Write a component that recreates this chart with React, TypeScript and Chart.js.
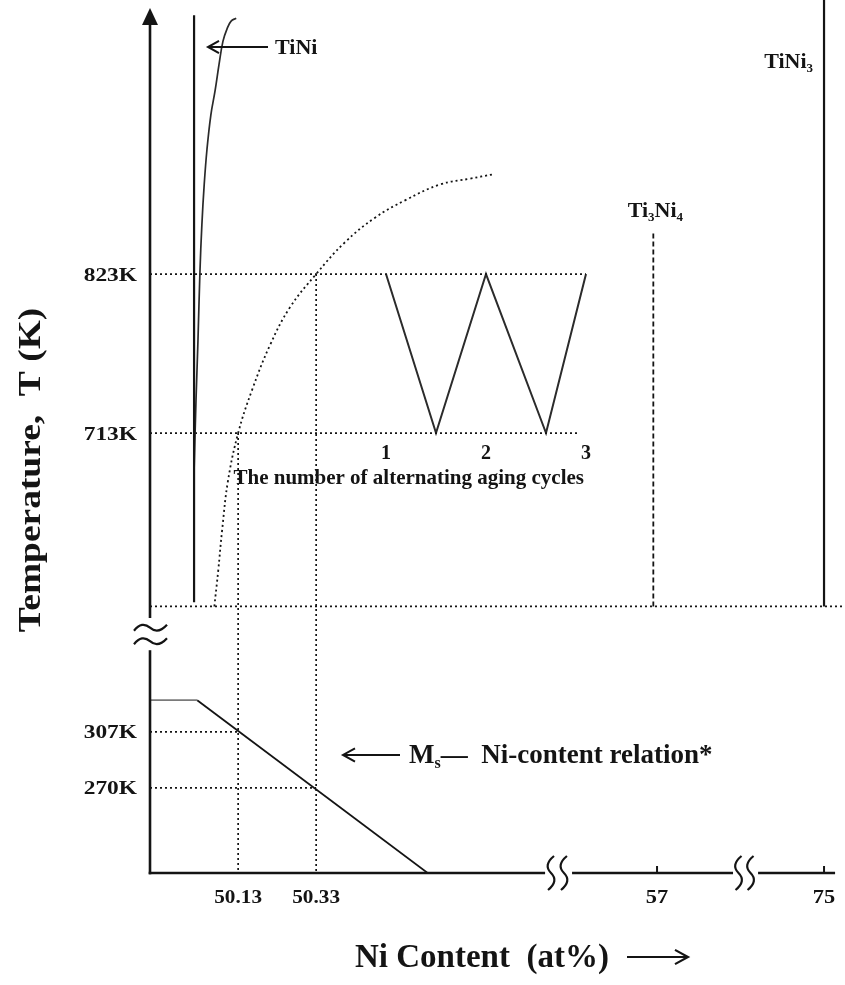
import React, { useEffect, useRef } from "react";
import { Chart, registerables } from "chart.js";

Chart.register(...registerables);

// ---------------- scale calibration ----------------
// continuous near-equiatomic part of the composition axis, at% Ni
const NI_MIN = 49.904;
const NI_MAX = 51.686;
// broken (compressed) far part of the composition axis, at% Ni
const NI_FAR_MIN = 2.35;
const NI_FAR_MAX = 77.26;
// upper panel (aging temperatures), K
const T_HIGH_MIN = 408.6;
const T_HIGH_MAX = 1012.6;
// lower panel (Ms temperatures), K
const T_LOW_MIN = 213.8;
const T_LOW_MAX = 790.6;
// inset: number of alternating aging cycles
const CYCLE_MIN = -1.36;
const CYCLE_MAX = 5.59;

// axis breaks
const AXIS_BREAK_T_HIGH = 585; // upper panel axis stops here (K)
const AXIS_BREAK_T_LOW = 361; // lower panel axis starts here (K)
const NEAR_AXIS_END_NI = 50.917;
const FAR_AXIS_SEGMENTS = [
  [47.84, 65.19],
  [67.89, 76.19],
];

// ---------------- data ----------------
// TiNi phase boundary (vertical) and TiNi solvus curve
const tiNiLineNi = [50.017, 50.017];
const tiNiLineT = [596, 1002];
const tiNiSolvusNi = [50.017, 50.022, 50.027, 50.032, 50.037, 50.043, 50.05, 50.06, 50.071, 50.081, 50.091, 50.102, 50.112, 50.125];
const tiNiSolvusT = [687, 736, 777, 824, 857, 885, 909, 933, 950, 968, 984, 993, 998, 1000];

// Ti3Ni4 solvus (dotted curve)
const ti3Ni4SolvusNi = [50.069, 50.079, 50.089, 50.104, 50.13, 50.166, 50.212, 50.263, 50.33, 50.404, 50.481, 50.558, 50.648, 50.725, 50.784];
const ti3Ni4SolvusT = [593, 618, 646, 680, 713, 743, 774, 800, 823, 845, 862, 874, 885, 889, 892];

// alternating aging cycle (inset)
const agingCycleX = [1, 1.5, 2, 2.6, 3];
const agingCycleT = [823, 713, 823, 713, 823];
const cycleTicks = [1, 2, 3];
const cycleTickLabels = ["1", "2", "3"];

// aging temperatures and guide ends (in cycle units)
const agingTempTicks = [823, 713];
const agingTempLabels = ["823K", "713K"];
const agingGuideEndCycle = [3, 2.93];

// compositions marked on the axis and the temperature each guide rises to
const compositionTicks = [50.13, 50.33];
const compositionLabels = ["50.13", "50.33"];
const compositionGuideTopT = [713, 823];

// far compositions
const farTicks = [57, 75];
const farTickLabels = ["57", "75"];

// Ms - Ni content relation (lower panel)
const msPlateauNi = [49.904, 50.025];
const msPlateauT = [328, 328];
const msSlopeNi = [50.025, 50.615];
const msSlopeT = [328, 214];
const msTempTicks = [307, 270];
const msTempLabels = ["307K", "270K"];

// phase lines
const ti3Ni4PhaseNi = [56.6, 56.6];
const ti3Ni4PhaseT = [593, 851];
const tiNi3PhaseNi = [75, 75];
const tiNi3PhaseT = [593, 1012.6];

// bottom boundary of the upper panel
const panelBoundaryT = 593;

// ---------------- styling ----------------
const INK = "#141414";
const SERIF = '"Liberation Serif", "Times New Roman", serif';
const DOT = [2, 3];

const pts = (xs: number[], ys: number[]) => xs.map((x, i) => ({ x, y: ys[i] }));

const base = { showLine: true, pointRadius: 0, fill: false, borderColor: INK, borderCapStyle: "butt" };

function buildDatasets(): any[] {
  const ds: any[] = [];
  // TiNi vertical boundary
  ds.push({ ...base, data: pts(tiNiLineNi, tiNiLineT), borderWidth: 2.2, xAxisID: "x", yAxisID: "y" });
  // TiNi solvus
  ds.push({
    ...base,
    data: pts(tiNiSolvusNi, tiNiSolvusT),
    borderWidth: 1.7,
    borderColor: "#2a2a2a",
    tension: 0.4,
    xAxisID: "x",
    yAxisID: "y",
  });
  // Ti3Ni4 solvus dotted
  ds.push({
    ...base,
    data: pts(ti3Ni4SolvusNi, ti3Ni4SolvusT),
    borderWidth: 1.8,
    borderDash: DOT,
    tension: 0.4,
    xAxisID: "x",
    yAxisID: "y",
  });
  // aging temperature guides
  agingTempTicks.forEach((t, i) => {
    ds.push({
      ...base,
      data: [
        { x: CYCLE_MIN, y: t },
        { x: agingGuideEndCycle[i], y: t },
      ],
      borderWidth: 1.7,
      borderDash: DOT,
      xAxisID: "xCycle",
      yAxisID: "y",
    });
  });
  // composition guides
  compositionTicks.forEach((c, i) => {
    ds.push({
      ...base,
      data: [
        { x: c, y: compositionGuideTopT[i] },
        { x: c, y: T_HIGH_MIN },
      ],
      borderWidth: 1.7,
      borderDash: DOT,
      xAxisID: "x",
      yAxisID: "y",
    });
  });
  // panel boundary
  ds.push({
    ...base,
    data: [
      { x: NI_MIN, y: panelBoundaryT },
      { x: NI_MAX, y: panelBoundaryT },
    ],
    borderWidth: 1.7,
    borderDash: DOT,
    xAxisID: "x",
    yAxisID: "y",
  });
  // alternating aging cycles W
  ds.push({ ...base, data: pts(agingCycleX, agingCycleT), borderWidth: 2, borderColor: "#2b2b2b", xAxisID: "xCycle", yAxisID: "y" });
  // Ms relation
  ds.push({ ...base, data: pts(msPlateauNi, msPlateauT), borderWidth: 1.6, borderColor: "#7a7a7a", xAxisID: "x", yAxisID: "yLow" });
  ds.push({ ...base, data: pts(msSlopeNi, msSlopeT), borderWidth: 1.8, xAxisID: "x", yAxisID: "yLow" });
  // Ms guides
  msTempTicks.forEach((t, i) => {
    ds.push({
      ...base,
      data: [
        { x: NI_MIN, y: t },
        { x: compositionTicks[i], y: t },
      ],
      borderWidth: 1.7,
      borderDash: DOT,
      xAxisID: "x",
      yAxisID: "yLow",
    });
  });
  // Ti3Ni4 phase (dashed)
  ds.push({ ...base, data: pts(ti3Ni4PhaseNi, ti3Ni4PhaseT), borderWidth: 1.8, borderDash: [5, 3], xAxisID: "xFar", yAxisID: "y" });
  // TiNi3 phase
  ds.push({ ...base, data: pts(tiNi3PhaseNi, tiNi3PhaseT), borderWidth: 2.2, xAxisID: "xFar", yAxisID: "y" });
  return ds;
}

// ---------------- drawing helpers ----------------
function setFont(ctx: CanvasRenderingContext2D, size: number) {
  ctx.font = `bold ${size}px ${SERIF}`;
  (ctx as any).letterSpacing = "0px";
}

function drawText(
  ctx: CanvasRenderingContext2D,
  s: string,
  x: number,
  y: number,
  size: number,
  align: CanvasTextAlign = "left",
  stretch = 1
) {
  setFont(ctx, size);
  ctx.textAlign = align;
  ctx.textBaseline = "alphabetic";
  ctx.save();
  ctx.translate(x, y);
  ctx.scale(stretch, 1);
  ctx.fillText(s, 0, 0);
  ctx.restore();
}

type Part = { t: string; sub?: boolean };
function drawRich(ctx: CanvasRenderingContext2D, parts: Part[], x: number, y: number, size: number, align: "left" | "center" | "right" = "left") {
  const subSize = Math.round(size * 0.6);
  const widths = parts.map((p) => {
    setFont(ctx, p.sub ? subSize : size);
    return ctx.measureText(p.t).width;
  });
  const total = widths.reduce((a, b) => a + b, 0);
  let cx = align === "center" ? x - total / 2 : align === "right" ? x - total : x;
  ctx.textAlign = "left";
  ctx.textBaseline = "alphabetic";
  parts.forEach((p, i) => {
    setFont(ctx, p.sub ? subSize : size);
    ctx.fillText(p.t, cx, p.sub ? y + size * 0.2 : y);
    cx += widths[i];
  });
}

function seg(ctx: CanvasRenderingContext2D, x1: number, y1: number, x2: number, y2: number) {
  ctx.beginPath();
  ctx.moveTo(x1, y1);
  ctx.lineTo(x2, y2);
  ctx.stroke();
}

function openArrow(ctx: CanvasRenderingContext2D, xFrom: number, xTo: number, y: number, head: number, w: number) {
  ctx.lineWidth = w;
  seg(ctx, xFrom, y, xTo, y);
  const dir = xTo > xFrom ? -1 : 1;
  ctx.beginPath();
  ctx.moveTo(xTo + dir * head, y - head * 0.55);
  ctx.lineTo(xTo, y);
  ctx.lineTo(xTo + dir * head, y + head * 0.55);
  ctx.stroke();
}

function hSquiggle(ctx: CanvasRenderingContext2D, x0: number, y: number) {
  ctx.beginPath();
  ctx.moveTo(x0, y + 3);
  ctx.quadraticCurveTo(x0 + 8, y - 7, x0 + 16, y);
  ctx.quadraticCurveTo(x0 + 24, y + 7, x0 + 33, y - 3);
  ctx.stroke();
}

function vSquiggle(ctx: CanvasRenderingContext2D, x: number, y: number) {
  ctx.beginPath();
  ctx.moveTo(x + 3, y - 17);
  ctx.quadraticCurveTo(x - 8, y - 8, x, y);
  ctx.quadraticCurveTo(x + 8, y + 8, x - 3, y + 17);
  ctx.stroke();
}

const schematicPlugin = {
  id: "schematic",
  afterDatasetsDraw(chart: any) {
    const ctx: CanvasRenderingContext2D = chart.ctx;
    const sx = chart.scales.x;
    const sFar = chart.scales.xFar;
    const sCyc = chart.scales.xCycle;
    const sy = chart.scales.y;
    const sLow = chart.scales.yLow;
    const { left, top, bottom } = chart.chartArea;

    ctx.save();
    ctx.strokeStyle = INK;
    ctx.fillStyle = INK;
    ctx.setLineDash([]);
    ctx.lineCap = "butt";

    // ---- y axis with arrow and break ----
    ctx.lineWidth = 2.6;
    const tipY = top + 8;
    seg(ctx, left, tipY + 14, left, sy.getPixelForValue(AXIS_BREAK_T_HIGH));
    seg(ctx, left, sLow.getPixelForValue(AXIS_BREAK_T_LOW), left, bottom + 1.3);
    ctx.beginPath();
    ctx.moveTo(left, tipY);
    ctx.lineTo(left - 8, tipY + 17);
    ctx.lineTo(left + 8, tipY + 17);
    ctx.closePath();
    ctx.fill();
    const yb1 = sy.getPixelForValue(AXIS_BREAK_T_HIGH);
    const yb2 = sLow.getPixelForValue(AXIS_BREAK_T_LOW);
    ctx.lineWidth = 2.2;
    hSquiggle(ctx, left - 16, yb1 + (yb2 - yb1) * 0.3);
    hSquiggle(ctx, left - 16, yb1 + (yb2 - yb1) * 0.72);

    // ---- x axis with breaks ----
    ctx.lineWidth = 2.6;
    const xNearEnd = sx.getPixelForValue(NEAR_AXIS_END_NI);
    seg(ctx, left - 1.3, bottom, xNearEnd, bottom);
    let prevEnd = xNearEnd;
    FAR_AXIS_SEGMENTS.forEach(([a, b]) => {
      const pa = sFar.getPixelForValue(a);
      const pb = sFar.getPixelForValue(b);
      ctx.lineWidth = 2.2;
      const gap = pa - prevEnd;
      vSquiggle(ctx, prevEnd + gap * 0.22, bottom);
      vSquiggle(ctx, prevEnd + gap * 0.7, bottom);
      ctx.lineWidth = 2.6;
      seg(ctx, pa, bottom, pb, bottom);
      prevEnd = pb;
    });
    // far ticks
    ctx.lineWidth = 2;
    farTicks.forEach((v) => {
      const px = sFar.getPixelForValue(v);
      seg(ctx, px, bottom, px, bottom - 7);
    });

    // ---- tick labels ----
    compositionTicks.forEach((v, i) => drawText(ctx, compositionLabels[i], sx.getPixelForValue(v), bottom + 30, 18, "center", 1.18));
    farTicks.forEach((v, i) => drawText(ctx, farTickLabels[i], sFar.getPixelForValue(v), bottom + 30, 19, "center", 1.18));
    agingTempTicks.forEach((t, i) => drawText(ctx, agingTempLabels[i], left - 13, sy.getPixelForValue(t) + 6.5, 18, "right", 1.3));
    msTempTicks.forEach((t, i) => drawText(ctx, msTempLabels[i], left - 13, sLow.getPixelForValue(t) + 6.5, 18, "right", 1.3));

    // ---- inset ----
    const y713 = sy.getPixelForValue(agingTempTicks[1]);
    cycleTicks.forEach((c, i) => drawText(ctx, cycleTickLabels[i], sCyc.getPixelForValue(c), y713 + 26, 20, "center"));
    drawText(ctx, "The number of alternating aging cycles", sCyc.getPixelForValue(3) - 2, y713 + 51, 21, "right");

    // ---- phase labels ----
    drawText(ctx, "TiNi", left + 125, top + 54, 22, "left");
    ctx.strokeStyle = INK;
    openArrow(ctx, left + 118, left + 58, top + 47, 11, 2);

    drawRich(ctx, [{ t: "TiNi" }, { t: "3", sub: true }], sFar.getPixelForValue(75) - 11, top + 68, 22, "right");
    drawRich(
      ctx,
      [{ t: "Ti" }, { t: "3", sub: true }, { t: "Ni" }, { t: "4", sub: true }],
      sFar.getPixelForValue(ti3Ni4PhaseNi[0]) + 2,
      sy.getPixelForValue(ti3Ni4PhaseT[1]) - 17,
      22,
      "center"
    );

    // ---- Ms label ----
    const msY = sLow.getPixelForValue(msTempTicks[0]) + 31;
    openArrow(ctx, left + 250, left + 193, msY - 8, 12, 2);
    drawRich(ctx, [{ t: "M" }, { t: "s", sub: true }, { t: "\u2014  Ni-content relation*" }], left + 259, msY, 27, "left");

    // ---- axis titles ----
    drawText(ctx, "Ni Content  (at%)", 355, bottom + 94, 33, "left");
    openArrow(ctx, 627, 688, bottom + 84, 13, 2.2);

    ctx.save();
    ctx.translate(32, 470);
    ctx.rotate(-Math.PI / 2);
    ctx.scale(1.17, 1);
    setFont(ctx, 32);
    ctx.textAlign = "center";
    ctx.textBaseline = "middle";
    ctx.fillText("Temperature,  T (K)", 0, 0);
    ctx.restore();

    ctx.restore();
  },
};

export default function App() {
  const ref = useRef<HTMLCanvasElement>(null);
  useEffect(() => {
    const canvas = ref.current;
    if (!canvas) return;
    const chart = new Chart(canvas, {
      type: "scatter",
      data: { datasets: buildDatasets() },
      options: {
        animation: false,
        responsive: false,
        maintainAspectRatio: false,
        devicePixelRatio: 1,
        events: [],
        layout: { padding: { left: 150, right: 0, top: 0, bottom: 112 } },
        plugins: { legend: { display: false }, tooltip: { enabled: false } },
        scales: {
          x: { type: "linear", display: false, min: NI_MIN, max: NI_MAX },
          xFar: { type: "linear", axis: "x", display: false, min: NI_FAR_MIN, max: NI_FAR_MAX },
          xCycle: { type: "linear", axis: "x", display: false, min: CYCLE_MIN, max: CYCLE_MAX },
          y: { type: "linear", display: false, min: T_HIGH_MIN, max: T_HIGH_MAX },
          yLow: { type: "linear", axis: "y", display: false, min: T_LOW_MIN, max: T_LOW_MAX },
        },
      } as any,
      plugins: [schematicPlugin as any],
    } as any);
    return () => chart.destroy();
  }, []);
  return (
    <div style={{ position: "absolute", left: 0, top: 0, width: 845, height: 985, background: "#fff" }}>
      <canvas ref={ref} width={845} height={985} style={{ display: "block", width: 845, height: 985 }} />
    </div>
  );
}
